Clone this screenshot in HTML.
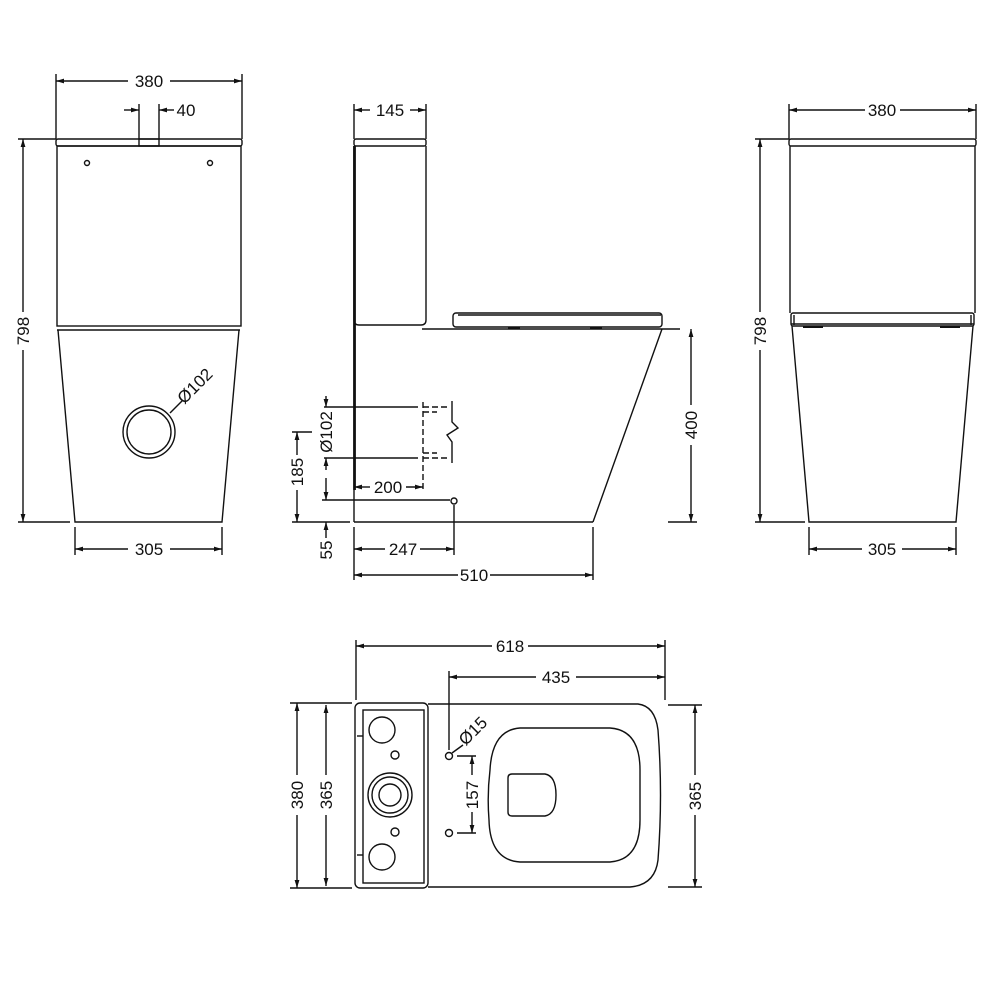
<!DOCTYPE html>
<html><head><meta charset="utf-8"><style>
html,body{margin:0;padding:0;background:#fff;width:1000px;height:1000px;overflow:hidden}
svg{display:block}
text{font-family:"Liberation Sans",sans-serif;font-size:17px;fill:#111}
</style></head><body>
<svg width="1000" height="1000" viewBox="0 0 1000 1000" xmlns="http://www.w3.org/2000/svg">
<defs>
<marker id="a" viewBox="0 0 10 6" refX="10" refY="3" markerWidth="8" markerHeight="5" orient="auto-start-reverse" markerUnits="userSpaceOnUse"><path d="M0,0L10,3L0,6z" fill="#111"/></marker>
</defs>
<g fill="none" stroke="#111" stroke-width="1.4">
<!-- ===== FRONT VIEW LEFT ===== -->
<rect x="56" y="139" width="186" height="7" rx="2"/>
<rect x="139" y="139" width="20" height="7"/>
<rect x="57" y="146" width="184" height="180"/>
<line x1="57" y1="330" x2="240" y2="330"/>
<path d="M58,330 L75,522 L222,522 L239,330"/>
<circle cx="87" cy="163" r="2.5"/><circle cx="210" cy="163" r="2.5"/>
<circle cx="149" cy="432" r="26"/><circle cx="149" cy="432" r="22"/>
<line x1="170" y1="413" x2="182" y2="401"/>
<line x1="56" y1="74" x2="56" y2="139"/><line x1="242" y1="74" x2="242" y2="139"/>
<line x1="56" y1="81" x2="128" y2="81" marker-start="url(#a)"/><line x1="170" y1="81" x2="242" y2="81" marker-end="url(#a)"/>
<line x1="139" y1="104" x2="139" y2="139"/><line x1="159" y1="104" x2="159" y2="139"/>
<line x1="124" y1="110" x2="139" y2="110" marker-end="url(#a)"/><line x1="174" y1="110" x2="159" y2="110" marker-end="url(#a)"/>
<line x1="18" y1="139" x2="56" y2="139"/><line x1="18" y1="522" x2="70" y2="522"/>
<line x1="23" y1="139" x2="23" y2="312" marker-start="url(#a)"/><line x1="23" y1="350" x2="23" y2="522" marker-end="url(#a)"/>
<line x1="75" y1="527" x2="75" y2="555"/><line x1="222" y1="527" x2="222" y2="555"/>
<line x1="75" y1="549" x2="128" y2="549" marker-start="url(#a)"/><line x1="170" y1="549" x2="222" y2="549" marker-end="url(#a)"/>

<!-- ===== SIDE VIEW ===== -->
<rect x="354" y="139" width="72" height="7" rx="2"/>
<path d="M354,146 L354,320 Q354,325 359,325 L421,325 Q426,325 426,320 L426,146"/>
<line x1="354.5" y1="146" x2="354.5" y2="490" stroke-width="2.8"/>
<line x1="354" y1="490" x2="354" y2="522"/>
<line x1="422" y1="329" x2="680" y2="329"/>
<line x1="354" y1="522" x2="593" y2="522"/>
<line x1="593" y1="522" x2="662" y2="329"/>
<rect x="453" y="313" width="209" height="14" rx="3"/>
<line x1="458" y1="315" x2="661" y2="315"/>
<line x1="508" y1="328" x2="520" y2="328" stroke-width="2"/><line x1="590" y1="328" x2="602" y2="328" stroke-width="2"/>
<line x1="324" y1="407" x2="418" y2="407"/><line x1="324" y1="458" x2="418" y2="458"/>
<g stroke-dasharray="6,3">
<line x1="423" y1="407" x2="450" y2="407"/><line x1="423" y1="458" x2="450" y2="458"/>
<line x1="423" y1="402" x2="423" y2="490"/>
<line x1="423" y1="412" x2="437" y2="412"/><line x1="423" y1="453" x2="437" y2="453"/>
</g>
<path d="M452,401 L452,422 L458,428 L447,435 L452,442 L452,463"/>
<line x1="326" y1="396" x2="326" y2="407" marker-end="url(#a)"/><line x1="326" y1="470" x2="326" y2="458" marker-end="url(#a)"/>
<line x1="354" y1="487" x2="370" y2="487" marker-start="url(#a)"/><line x1="406" y1="487" x2="423" y2="487" marker-end="url(#a)"/>
<line x1="322" y1="500" x2="450" y2="500"/>
<circle cx="454" cy="501" r="3"/>
<line x1="454" y1="505" x2="454" y2="555"/>
<line x1="292" y1="432" x2="312" y2="432"/><line x1="292" y1="522" x2="350" y2="522"/>
<line x1="297" y1="432" x2="297" y2="455" marker-start="url(#a)"/><line x1="297" y1="490" x2="297" y2="522" marker-end="url(#a)"/>
<line x1="326" y1="478" x2="326" y2="500" marker-end="url(#a)"/><line x1="326" y1="538" x2="326" y2="522" marker-end="url(#a)"/>
<line x1="354" y1="527" x2="354" y2="580"/><line x1="593" y1="527" x2="593" y2="580"/>
<line x1="354" y1="549" x2="385" y2="549" marker-start="url(#a)"/><line x1="420" y1="549" x2="454" y2="549" marker-end="url(#a)"/>
<line x1="354" y1="575" x2="458" y2="575" marker-start="url(#a)"/><line x1="490" y1="575" x2="593" y2="575" marker-end="url(#a)"/>
<line x1="354" y1="104" x2="354" y2="139"/><line x1="426" y1="104" x2="426" y2="139"/>
<line x1="354" y1="110" x2="370" y2="110" marker-start="url(#a)"/><line x1="410" y1="110" x2="426" y2="110" marker-end="url(#a)"/>
<line x1="668" y1="522" x2="697" y2="522"/>
<line x1="691" y1="329" x2="691" y2="405" marker-start="url(#a)"/><line x1="691" y1="445" x2="691" y2="522" marker-end="url(#a)"/>

<!-- ===== RIGHT VIEW ===== -->
<rect x="789" y="139" width="187" height="7" rx="2"/>
<line x1="790" y1="146" x2="790" y2="313"/><line x1="975" y1="146" x2="975" y2="313"/>
<rect x="791" y="313" width="183" height="13" rx="2"/>
<line x1="794" y1="315" x2="794" y2="325"/><line x1="971" y1="315" x2="971" y2="325"/>
<line x1="791" y1="324" x2="974" y2="324"/>
<line x1="803" y1="327" x2="823" y2="327" stroke-width="2"/><line x1="940" y1="327" x2="960" y2="327" stroke-width="2"/>
<path d="M792,326 L809,522 L956,522 L973,326"/>
<line x1="789" y1="104" x2="789" y2="139"/><line x1="976" y1="104" x2="976" y2="139"/>
<line x1="789" y1="110" x2="865" y2="110" marker-start="url(#a)"/><line x1="900" y1="110" x2="976" y2="110" marker-end="url(#a)"/>
<line x1="755" y1="139" x2="789" y2="139"/><line x1="755" y1="522" x2="805" y2="522"/>
<line x1="760" y1="139" x2="760" y2="312" marker-start="url(#a)"/><line x1="760" y1="350" x2="760" y2="522" marker-end="url(#a)"/>
<line x1="809" y1="527" x2="809" y2="555"/><line x1="956" y1="527" x2="956" y2="555"/>
<line x1="809" y1="549" x2="862" y2="549" marker-start="url(#a)"/><line x1="902" y1="549" x2="956" y2="549" marker-end="url(#a)"/>

<!-- ===== TOP VIEW ===== -->
<rect x="355" y="703" width="73" height="185" rx="5"/>
<rect x="363" y="710" width="61" height="173"/>
<line x1="357" y1="736" x2="363" y2="736"/><line x1="357" y1="855" x2="363" y2="855"/>
<path d="M428,704 L638,704 Q655,706 658,730 Q663,795 658,860 Q655,885 630,887 L428,887"/>
<path d="M520,728 L610,728 Q640,730 640,770 L640,820 Q640,860 610,862 L520,862 Q490,860 489,820 Q487,795 490,770 Q492,730 520,728 Z"/>
<path d="M512,774 L545,774 Q556,776 556,795 Q556,814 545,816 L512,816 Q508,816 508,812 L508,778 Q508,774 512,774 Z"/>
<circle cx="382" cy="730" r="13"/><circle cx="382" cy="857" r="13"/>
<circle cx="395" cy="755" r="4"/><circle cx="395" cy="832" r="4"/>
<circle cx="390" cy="795" r="22"/><circle cx="390" cy="795" r="18"/><circle cx="390" cy="795" r="11"/>
<circle cx="449" cy="756" r="3.5"/><circle cx="449" cy="833" r="3.5"/>
<line x1="452" y1="753" x2="463" y2="745"/>
<line x1="457" y1="756" x2="476" y2="756"/><line x1="457" y1="833" x2="476" y2="833"/>
<line x1="472" y1="756" x2="472" y2="775" marker-start="url(#a)"/><line x1="472" y1="812" x2="472" y2="833" marker-end="url(#a)"/>
<line x1="356" y1="640" x2="356" y2="700"/><line x1="665" y1="640" x2="665" y2="700"/>
<line x1="356" y1="646" x2="492" y2="646" marker-start="url(#a)"/><line x1="528" y1="646" x2="665" y2="646" marker-end="url(#a)"/>
<line x1="449" y1="671" x2="449" y2="750"/>
<line x1="449" y1="677" x2="536" y2="677" marker-start="url(#a)"/><line x1="576" y1="677" x2="665" y2="677" marker-end="url(#a)"/>
<line x1="290" y1="703" x2="352" y2="703"/><line x1="290" y1="888" x2="352" y2="888"/>
<line x1="297" y1="703" x2="297" y2="775" marker-start="url(#a)"/><line x1="297" y1="815" x2="297" y2="888" marker-end="url(#a)"/>
<line x1="326" y1="705" x2="326" y2="775" marker-start="url(#a)"/><line x1="326" y1="815" x2="326" y2="886" marker-end="url(#a)"/>
<line x1="668" y1="705" x2="702" y2="705"/><line x1="668" y1="887" x2="702" y2="887"/>
<line x1="695" y1="705" x2="695" y2="775" marker-start="url(#a)"/><line x1="695" y1="815" x2="695" y2="887" marker-end="url(#a)"/>
</g>
<g text-anchor="middle">
<text x="149" y="87">380</text>
<text x="186" y="116">40</text>
<text x="149" y="555">305</text>
<text transform="translate(29,331) rotate(-90)">798</text>
<text transform="translate(199,390) rotate(-45)">Ø102</text>
<text x="390" y="116">145</text>
<text x="388" y="493">200</text>
<text x="403" y="555">247</text>
<text x="474" y="581">510</text>
<text transform="translate(332,432) rotate(-90)">Ø102</text>
<text transform="translate(303,472) rotate(-90)">185</text>
<text transform="translate(332,550) rotate(-90)">55</text>
<text transform="translate(697,425) rotate(-90)">400</text>
<text x="882" y="116">380</text>
<text transform="translate(766,331) rotate(-90)">798</text>
<text x="882" y="555">305</text>
<text x="510" y="652">618</text>
<text x="556" y="683">435</text>
<text transform="translate(303,795) rotate(-90)">380</text>
<text transform="translate(332,795) rotate(-90)">365</text>
<text transform="translate(701,796) rotate(-90)">365</text>
<text transform="translate(478,795) rotate(-90)">157</text>
<text transform="translate(477,735) rotate(-45)">Ø15</text>
</g>
</svg>
</body></html>
